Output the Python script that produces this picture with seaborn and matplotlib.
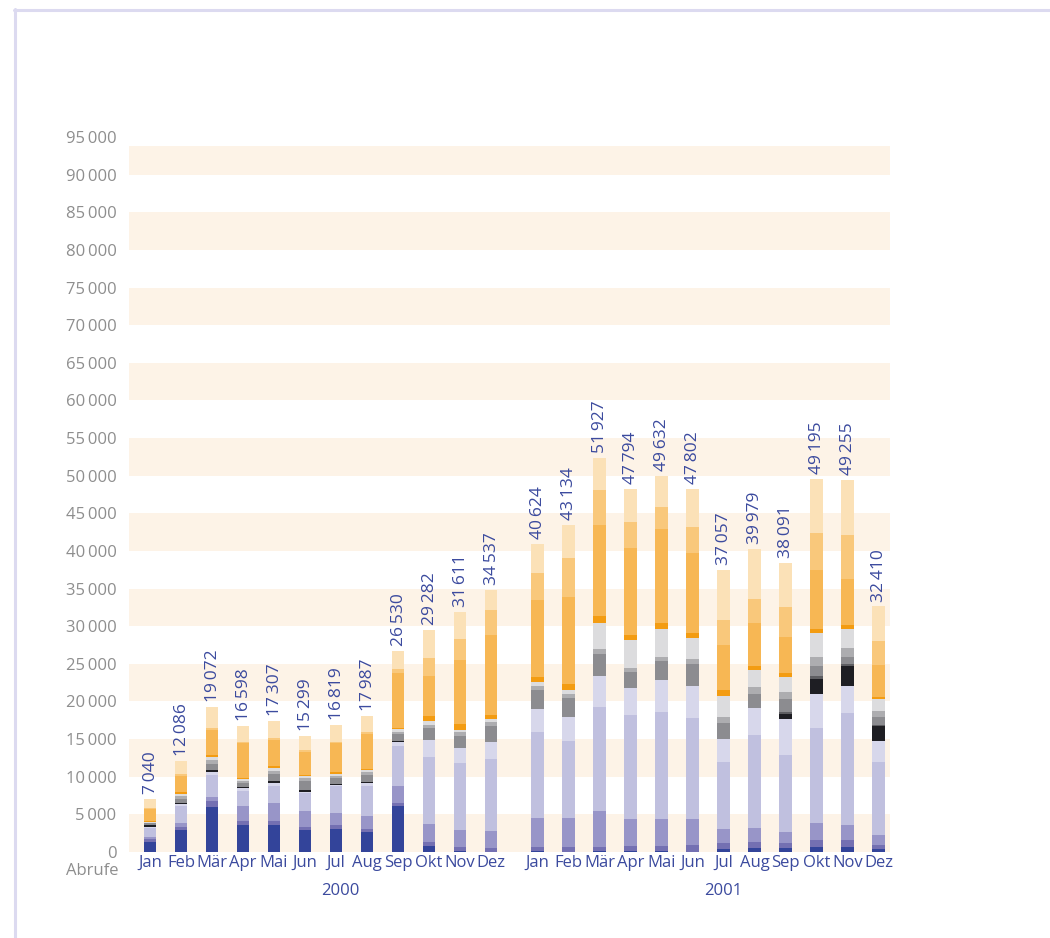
import numpy as np
import pandas as pd
import matplotlib
matplotlib.use('Agg')
import matplotlib.pyplot as plt
import matplotlib.transforms as mtransforms
from matplotlib.lines import Line2D
import seaborn as sns

# data: monthly calls ("Abrufe"), stacked by source, bottom to top
months = ['Jan', 'Feb', 'Mär', 'Apr', 'Mai', 'Jun', 'Jul', 'Aug', 'Sep', 'Okt', 'Nov', 'Dez']
years = ['2000', '2001']
totals = [7040, 12086, 19072, 16598, 17307, 15299, 16819, 17987, 26530, 29282, 31611, 34537,
          40624, 43134, 51927, 47794, 49632, 47802, 37057, 39979, 38091, 49195, 49255, 32410]

s01 = [1330, 2890, 6000, 3600, 3600, 2890, 3020, 2670, 6130, 800, 80, 60,
       80, 60, 100, 120, 120, 60, 360, 490, 490, 620, 620, 360]
s02 = [360, 440, 710, 490, 530, 490, 580, 350, 360, 490, 530, 530,
       540, 560, 520, 640, 640, 870, 800, 800, 670, 930, 930, 530]
s03 = [310, 490, 580, 2040, 2360, 2040, 1560, 1780, 2270, 2400, 2360, 2220,
       3870, 3870, 4800, 3600, 3600, 3420, 1870, 1870, 1470, 2270, 2000, 1330]
s04 = [1240, 2310, 3000, 2000, 2310, 2360, 3550, 4000, 5280, 8930, 8800, 9600,
       11470, 10270, 13870, 13870, 14270, 13470, 8930, 12400, 10270, 12670, 14930, 9740]
s05 = [140, 220, 380, 310, 310, 180, 180, 400, 540, 2270, 2000, 2270,
       3060, 3200, 4130, 3600, 4270, 4270, 3070, 3600, 4800, 4530, 3600, 2800]
s06 = [260, 130, 260, 130, 270, 260, 180, 130, 180, 0, 0, 0,
       0, 0, 0, 0, 0, 0, 0, 0, 670, 2000, 2670, 2000]
s07 = [0, 0, 0, 0, 0, 0, 0, 0, 0, 0, 0, 0,
       0, 0, 0, 0, 0, 0, 0, 0, 220, 400, 260, 170]
s08 = [180, 620, 760, 580, 980, 1200, 710, 890, 880, 1600, 1600, 2000,
       2540, 2530, 2930, 2130, 2530, 2930, 2130, 1870, 1780, 1330, 940, 1030]
s09 = [90, 360, 530, 310, 350, 400, 350, 360, 360, 440, 530, 580,
       530, 530, 670, 530, 540, 670, 800, 930, 930, 1200, 1200, 800]
s10 = [90, 310, 360, 220, 450, 270, 230, 310, 360, 490, 270, 400,
       530, 540, 3470, 3730, 3600, 2800, 2800, 2270, 2000, 3200, 2530, 1600]
s11 = [90, 180, 350, 180, 260, 180, 310, 180, 130, 710, 840, 530,
       670, 800, 930, 670, 800, 670, 800, 530, 530, 530, 530, 260]
s12 = [1600, 2170, 3290, 4570, 3510, 3060, 3820, 4620, 7330, 5290, 8490, 10630,
       10130, 11460, 12000, 11470, 12530, 10530, 6000, 5730, 4800, 7730, 6000, 4270]
s13 = [100, 180, 220, 130, 230, 270, 180, 310, 450, 2400, 2800, 3330,
       3600, 5200, 4670, 3470, 2930, 3470, 3200, 3070, 3870, 4930, 5870, 3200]
s14 = [1200, 1780, 2890, 2180, 2260, 1820, 2260, 2090, 2490, 3730, 3600, 2670,
       3870, 4400, 4270, 4400, 4130, 5070, 6670, 6670, 5870, 7240, 7400, 4530]

layers = [s01, s02, s03, s04, s05, s06, s07, s08, s09, s10, s11, s12, s13, s14]
layer_names = ['s%02d' % (i + 1) for i in range(len(layers))]
layer_colors = ['#33449a', '#7470b2', '#9895c8', '#c0c0df', '#d7d7eb', '#1e1e23', '#5e5e62',
                '#8c8c90', '#adadb0', '#dcdcde', '#f39c12', '#f7b754', '#f9c87b', '#fbe1b7']

# x positions (2000 on even slots, 2001 after a small gap)
positions = list(range(0, 24, 2)) + list(range(25, 48, 2))

BLUE = '#3b4a9e'
GREY = '#8e8e8e'
BAND = '#fdf3e7'

rows = []
for name, vals in zip(layer_names, layers):
    for p, v in zip(positions, vals):
        rows.append({'pos': p, 'layer': name, 'value': v})
df = pd.DataFrame(rows)

sns.set_theme(style='white')
plt.rcParams['font.family'] = ['Open Sans', 'DejaVu Sans']

fig = plt.figure(figsize=(10.5, 9.38), dpi=100)
ax = fig.add_axes([129 / 1050, 86 / 938, 761 / 1050, 715 / 938])

# alternating background bands
for lo in range(0, 95000, 10000):
    ax.axhspan(lo, min(lo + 5000, 93800), color=BAND, lw=0, zorder=0)

sns.histplot(data=df, x='pos', weights='value', hue='layer',
             hue_order=layer_names[::-1], multiple='stack', discrete=True,
             shrink=0.78, palette=dict(zip(layer_names, layer_colors)),
             alpha=1, linewidth=0, edgecolor='none', legend=False, ax=ax, zorder=2)

ax.set_xlim(-1.355, 47.74)
ax.set_ylim(0, 95000)
ax.set_xlabel('')
ax.set_ylabel('')
sns.despine(ax=ax, left=True, bottom=True)

yt = np.arange(0, 95001, 5000)
ax.set_yticks(yt)
ax.set_yticklabels([f'{v:,}'.replace(',', '\u2009') for v in yt])
ax.tick_params(axis='y', length=0, pad=9, labelcolor=GREY, labelsize=12)
ax.set_xticks(positions)
ax.set_xticklabels(months * 2)
ax.tick_params(axis='x', length=0, pad=2, labelcolor=BLUE, labelsize=12)
ax.grid(False)

# totals above bars
stack_tops = np.sum(np.array(layers), axis=0)
for p, top, t in zip(positions, stack_tops, totals):
    ax.text(p + 0.05, top + 650, f'{t:,}'.replace(',', '\u2009'), rotation=90,
            ha='center', va='bottom', color=BLUE, fontsize=12.5)

# year labels
trans = mtransforms.blended_transform_factory(ax.transData, fig.transFigure)
ax.text(12.3, 1 - 891 / 938, years[0], transform=trans, ha='center', va='center',
        color=BLUE, fontsize=12)
ax.text(37.0, 1 - 891 / 938, years[1], transform=trans, ha='center', va='center',
        color=BLUE, fontsize=12)
fig.text(118 / 1050, 1 - 871 / 938, 'Abrufe', ha='right', va='center', color=GREY, fontsize=12)

# thin frame at top and left
frame = '#dcdaf0'
fig.add_artist(Line2D([15 / 1050, 15 / 1050], [0, 1 - 9 / 938], transform=fig.transFigure,
                      color=frame, lw=2.2))
fig.add_artist(Line2D([14 / 1050, 1], [1 - 10 / 938, 1 - 10 / 938], transform=fig.transFigure,
                      color=frame, lw=2.2))

fig.savefig('out.png', dpi=100, facecolor='white')
